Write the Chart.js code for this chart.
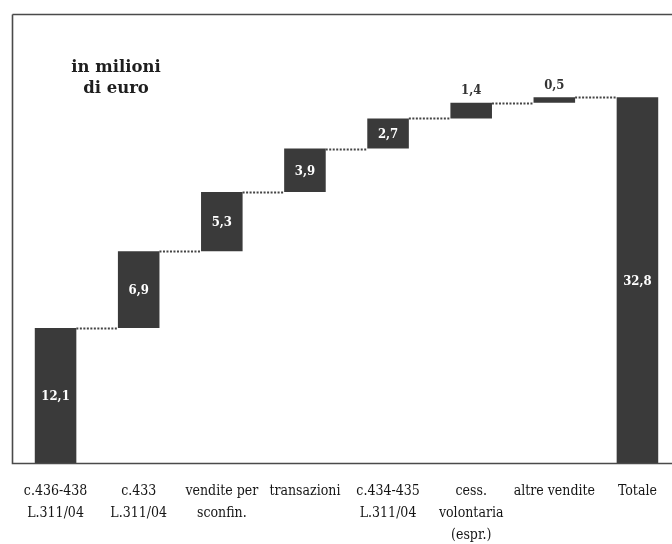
<!DOCTYPE html>
<html>
<head>
<meta charset="utf-8">
<script src="https://cdn.jsdelivr.net/npm/chart.js@4.4.1/dist/chart.umd.min.js"></script>
<style>
  html, body { margin: 0; padding: 0; background: #fff; overflow: hidden; width: 672px; height: 544px; }
  #wrap { position: relative; width: 694px; height: 563px; }
</style>
</head>
<body>
<div id="wrap"><canvas id="c" width="694" height="563"></canvas></div>
<script>
// Contributions to the total, in millions of euro
const categories = [
  ['c.436-438', 'L.311/04'],
  ['c.433', 'L.311/04'],
  ['vendite per', 'sconfin.'],
  ['transazioni'],
  ['c.434-435', 'L.311/04'],
  ['cess.', 'volontaria', '(espr.)'],
  ['altre vendite'],
  ['Totale']
];
const steps = [12.1, 6.9, 5.3, 3.9, 2.7, 1.4, 0.5];
const total = 32.8;
const valueLabels = ['12,1', '6,9', '5,3', '3,9', '2,7', '1,4', '0,5', '32,8'];
// labels that sit above the bar instead of inside it
const labelAbove = [false, false, false, false, false, true, true, false];

// floating ranges: each step starts where the previous one ended
const ranges = [];
let run = 0;
steps.forEach(v => { ranges.push([run, +(run + v).toFixed(2)]); run += v; });
ranges.push([0, total]);

const INK = '#3a3a3a';
const SERIF = '"DejaVu Serif Condensed", "DejaVu Serif", serif';

const framePlugin = {
  id: 'frame',
  beforeDatasetsDraw(chart) {
    const { ctx, scales } = chart;
    const y = scales.y;
    const meta = chart.getDatasetMeta(0);
    // dotted connectors between consecutive steps
    ctx.save();
    ctx.strokeStyle = '#444';
    ctx.lineWidth = 2;
    ctx.setLineDash([2, 1.5]);
    for (let i = 0; i < meta.data.length - 1; i++) {
      const a = meta.data[i].getProps(['x', 'width']);
      const b = meta.data[i + 1].getProps(['x', 'width']);
      const yy = Math.round(y.getPixelForValue(ranges[i][1])) + 0.5;
      ctx.beginPath();
      ctx.moveTo(a.x + a.width / 2, yy);
      ctx.lineTo(b.x - b.width / 2, yy);
      ctx.stroke();
    }
    ctx.restore();
  },
  afterDraw(chart) {
    const { ctx, scales } = chart;
    const y = scales.y;
    const base = Math.round(y.getPixelForValue(0)) + 0.5;
    ctx.save();
    // frame: top, left and baseline
    ctx.strokeStyle = '#4a4a4a';
    ctx.lineWidth = 1.6;
    ctx.beginPath();
    ctx.moveTo(12.5, 14.5);
    ctx.lineTo(chart.width, 14.5);
    ctx.moveTo(12.5, 14.5);
    ctx.lineTo(12.5, base);
    ctx.lineTo(chart.width, base);
    ctx.stroke();

    // unit note
    ctx.fillStyle = '#1e1e1e';
    ctx.font = 'bold 16.5px "DejaVu Serif", serif';
    ctx.textAlign = 'center';
    ctx.textBaseline = 'middle';
    ctx.fillText('in milioni', 116, 68);
    ctx.fillText('di euro', 116, 89);

    // value labels
    const meta = chart.getDatasetMeta(0);
    ctx.font = 'bold 13px ' + SERIF;
    meta.data.forEach((bar, i) => {
      const p = bar.getProps(['x', 'y', 'base']);
      if (labelAbove[i]) {
        ctx.fillStyle = '#333';
        ctx.fillText(valueLabels[i], p.x, Math.min(p.y, p.base) - 12);
      } else {
        ctx.fillStyle = '#fff';
        ctx.fillText(valueLabels[i], p.x, (p.y + p.base) / 2 + 1);
      }
    });
    ctx.restore();
  }
};

new Chart(document.getElementById('c'), {
  type: 'bar',
  data: {
    labels: categories,
    datasets: [{
      data: ranges,
      backgroundColor: INK,
      borderWidth: 0,
      barPercentage: 0.5,
      categoryPercentage: 1
    }]
  },
  options: {
    responsive: false,
    animation: false,
    layout: { padding: { left: 14, right: 15, top: 17, bottom: 0 } },
    plugins: { legend: { display: false }, tooltip: { enabled: false } },
    scales: {
      x: {
        offset: true,
        grid: { display: false, drawTicks: false },
        border: { display: false },
        ticks: {
          color: '#151515',
          padding: 17,
          maxRotation: 0,
          autoSkip: false,
          font: { family: SERIF, size: 14, lineHeight: 22 / 14 }
        }
      },
      y: {
        display: false,
        min: 0,
        max: 40
      }
    }
  },
  plugins: [framePlugin]
});
</script>
</body>
</html>
